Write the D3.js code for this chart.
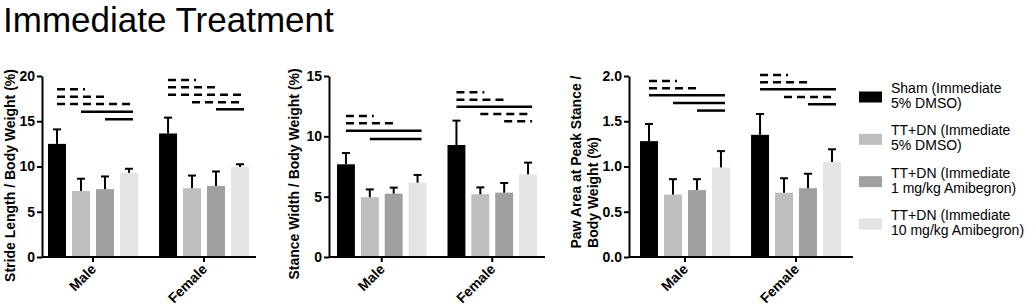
<!DOCTYPE html>
<html>
<head>
<meta charset="utf-8">
<script src="https://cdn.jsdelivr.net/npm/d3@7"></script>
<style>
  body { margin: 0; background: #fff; }
  svg { display: block; font-family: 'Liberation Sans', Arial, sans-serif; }
</style>
</head>
<body>
<svg id="chart"></svg>
<script>
// categories / series
const groups = ['Male', 'Female']
const seriesNames = [
  ['Sham (Immediate', '5% DMSO)'],
  ['TT+DN (Immediate', '5% DMSO)'],
  ['TT+DN (Immediate', '1 mg/kg Amibegron)'],
  ['TT+DN (Immediate', '10 mg/kg Amibegron)']
]
const colors = ['#000000', '#bebebe', '#a0a0a0', '#e4e4e4']

// stride length / body weight (%)
const strideMale = [12.5, 7.3, 7.5, 9.3]
const strideMaleErr = [1.6, 1.35, 1.4, 0.45]
const strideFemale = [13.65, 7.6, 7.85, 9.95]
const strideFemaleErr = [1.75, 1.4, 1.6, 0.3]
const strideTicks = [0, 5, 10, 15, 20]
// comparisons: group, bar a, bar b, line type, height (data units)
const strideSig = [
  ['Male', 0, 1, 'dash', 18.53], ['Male', 0, 2, 'dash', 17.71], ['Male', 0, 3, 'dash', 16.91],
  ['Male', 1, 3, 'solid', 16.05], ['Male', 2, 3, 'solid', 15.22],
  ['Female', 0, 1, 'dash', 19.56], ['Female', 0, 2, 'dash', 18.75], ['Female', 0, 3, 'dash', 17.93],
  ['Female', 1, 3, 'dash', 17.09], ['Female', 2, 3, 'solid', 16.32]
]

// stance width / body weight (%)
const stanceMale = [7.68, 4.95, 5.25, 6.16]
const stanceMaleErr = [0.94, 0.65, 0.5, 0.64]
const stanceFemale = [9.28, 5.2, 5.33, 6.85]
const stanceFemaleErr = [2.02, 0.57, 0.8, 0.97]
const stanceTicks = [0, 5, 10, 15]
const stanceSig = [
  ['Male', 0, 1, 'dash', 11.68], ['Male', 0, 2, 'dash', 11.08], ['Male', 0, 3, 'solid', 10.47],
  ['Male', 1, 3, 'solid', 9.78],
  ['Female', 0, 1, 'dash', 13.65], ['Female', 0, 2, 'dash', 13.04], ['Female', 0, 3, 'solid', 12.46],
  ['Female', 1, 3, 'dash', 11.85], ['Female', 2, 3, 'dash', 11.24]
]

// paw area at peak stance / body weight (%)
const pawMale = [1.28, 0.69, 0.74, 0.99]
const pawMaleErr = [0.19, 0.17, 0.12, 0.18]
const pawFemale = [1.35, 0.71, 0.76, 1.05]
const pawFemaleErr = [0.23, 0.16, 0.16, 0.14]
const pawTicks = [0, 0.5, 1.0, 1.5, 2.0]
const pawSig = [
  ['Male', 0, 1, 'dash', 1.945], ['Male', 0, 2, 'dash', 1.864], ['Male', 0, 3, 'solid', 1.787],
  ['Male', 1, 3, 'solid', 1.702], ['Male', 2, 3, 'solid', 1.618],
  ['Female', 0, 1, 'dash', 2.011], ['Female', 0, 2, 'dash', 1.93], ['Female', 0, 3, 'solid', 1.853],
  ['Female', 1, 3, 'dash', 1.768], ['Female', 2, 3, 'solid', 1.688]
]

const width = 1034, height = 308
const yTop = 76, yBottom = 257

const svg = d3.select('#chart')
  .attr('width', width)
  .attr('height', height)

svg.append('text')
  .attr('x', 3)
  .attr('y', 32)
  .attr('font-size', 35)
  .attr('fill', '#000')
  .text('Immediate Treatment')

const panels = [
  { mean: {Male: strideMale, Female: strideFemale}, err: {Male: strideMaleErr, Female: strideFemaleErr},
    ticks: strideTicks, fmt: d3.format('d'), sig: strideSig,
    axisX: 42, barStart: 48, barEnd: 249, axisEnd: 256,
    label: ['Stride Length / Body Weight (%)'], labelX: [15], labelY: [175.5] },
  { mean: {Male: stanceMale, Female: stanceFemale}, err: {Male: stanceMaleErr, Female: stanceFemaleErr},
    ticks: stanceTicks, fmt: d3.format('d'), sig: stanceSig,
    axisX: 329, barStart: 337, barEnd: 537, axisEnd: 545,
    label: ['Stance Width / Body Weight (%)'], labelX: [299], labelY: [174] },
  { mean: {Male: pawMale, Female: pawFemale}, err: {Male: pawMaleErr, Female: pawFemaleErr},
    ticks: pawTicks, fmt: d3.format('.1f'), sig: pawSig,
    axisX: 629, barStart: 640, barEnd: 841, axisEnd: 853,
    label: ['Paw Area at Peak Stance /', 'Body Weight (%)'], labelX: [581, 597.5], labelY: [162, 192.5] }
]

panels.forEach(p => drawPanel(p))

function drawPanel(p){
  const g = svg.append('g')
  const y = d3.scaleLinear()
    .domain([0, d3.max(p.ticks)])
    .range([yBottom, yTop])
  const x0 = d3.scaleBand()
    .domain(groups)
    .range([p.barStart, p.barEnd])
    .paddingInner(0.19)
  const x1 = d3.scaleBand()
    .domain(d3.range(4))
    .range([0, x0.bandwidth()])
    .paddingInner(0.25)
  const bw = x1.bandwidth()

  // bars + error bars
  groups.forEach(grp => {
    const rows = p.mean[grp].map((v, i) => ({i, v, e: p.err[grp][i]}))
    const gg = g.append('g').attr('transform', `translate(${x0(grp)},0)`)
    gg.selectAll('rect')
      .data(rows)
      .enter()
      .append('rect')
      .attr('x', d => x1(d.i))
      .attr('y', d => y(d.v))
      .attr('width', bw)
      .attr('height', d => y(0) - y(d.v))
      .attr('fill', d => colors[d.i])
    gg.selectAll('.stem')
      .data(rows)
      .enter()
      .append('line')
      .attr('class', 'stem')
      .attr('x1', d => x1(d.i) + bw / 2)
      .attr('x2', d => x1(d.i) + bw / 2)
      .attr('y1', d => y(d.v))
      .attr('y2', d => y(d.v + d.e))
      .attr('stroke', '#000')
      .attr('stroke-width', 2)
    gg.selectAll('.cap')
      .data(rows)
      .enter()
      .append('line')
      .attr('class', 'cap')
      .attr('x1', d => x1(d.i) + bw / 2 - 4)
      .attr('x2', d => x1(d.i) + bw / 2 + 4)
      .attr('y1', d => y(d.v + d.e))
      .attr('y2', d => y(d.v + d.e))
      .attr('stroke', '#000')
      .attr('stroke-width', 2)
  })

  // significance lines
  g.selectAll('.sig')
    .data(p.sig)
    .enter()
    .append('line')
    .attr('class', 'sig')
    .attr('x1', d => x0(d[0]) + x1(d[1]) + bw / 2)
    .attr('x2', d => x0(d[0]) + x1(d[2]) + bw / 2 + 4)
    .attr('y1', d => y(d[4]))
    .attr('y2', d => y(d[4]))
    .attr('stroke', '#000')
    .attr('stroke-width', 2.5)
    .attr('stroke-dasharray', d => d[3] === 'dash' ? '8,5' : null)

  // y axis
  const ya = g.append('g')
    .attr('transform', `translate(${p.axisX},0)`)
    .call(d3.axisLeft(y).tickValues(p.ticks).tickFormat(p.fmt).tickSize(5).tickSizeOuter(0).tickPadding(2))
  ya.select('.domain').attr('stroke-width', 2)
  ya.selectAll('.tick line').attr('stroke-width', 2)
  ya.selectAll('.tick text')
    .attr('font-size', 14)
    .attr('font-weight', 'bold')
    .attr('font-family', 'Liberation Sans, Arial, sans-serif')
    .attr('fill', '#000')

  // x axis
  const xa = g.append('g')
    .attr('transform', `translate(0,${yBottom})`)
    .call(d3.axisBottom(x0).tickSize(5).tickSizeOuter(0))
  xa.select('.domain').remove()
  xa.append('line')
    .attr('x1', p.axisX)
    .attr('x2', p.axisEnd)
    .attr('stroke', '#000')
    .attr('stroke-width', 2)
  xa.selectAll('.tick line').attr('stroke-width', 2)
  xa.selectAll('.tick text')
    .attr('font-size', 14)
    .attr('font-weight', 'bold')
    .attr('font-family', 'Liberation Sans, Arial, sans-serif')
    .attr('fill', '#000')
    .attr('text-anchor', 'end')
    .attr('dy', null)
    .attr('y', 0)
    .attr('transform', 'translate(4,13) rotate(-45)')

  // y label
  p.label.forEach((t, i) => {
    g.append('text')
      .attr('transform', `translate(${p.labelX[i]},${p.labelY[i]}) rotate(-90)`)
      .attr('text-anchor', 'middle')
      .attr('font-size', 14)
      .attr('font-weight', 'bold')
      .attr('fill', '#000')
      .text(t)
  })
}

// legend
const legend = svg.append('g').attr('transform', 'translate(859,0)')
const legendY = d3.scalePoint().domain(d3.range(4)).range([97, 224])
seriesNames.forEach((lines, i) => {
  const cy = legendY(i)
  legend.append('rect')
    .attr('x', 0)
    .attr('y', cy - 5.5)
    .attr('width', 23)
    .attr('height', 11)
    .attr('fill', colors[i])
  lines.forEach((t, j) => {
    legend.append('text')
      .attr('x', 32)
      .attr('y', cy - 4 + j * 15)
      .attr('font-size', 14)
      .attr('fill', '#000')
      .text(t)
  })
})
</script>
</body>
</html>
